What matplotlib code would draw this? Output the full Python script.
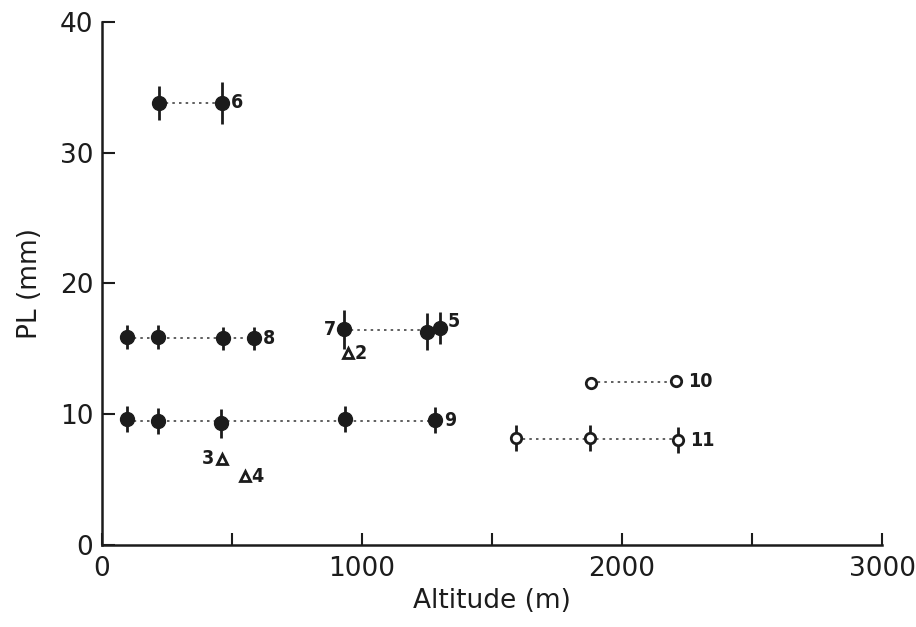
import matplotlib
matplotlib.use("Agg")
import matplotlib.pyplot as plt
import numpy as np

plt.rcParams["font.family"] = ["DejaVu Sans"]

# 各群のデータ (高度 m, PL mm, 誤差)
s6_x = [220, 462]
s6_y = [33.8, 33.8]
s6_e = [1.3, 1.6]

s8_x = [96, 215, 465, 585]
s8_y = [15.9, 15.9, 15.8, 15.8]
s8_e = [0.9, 0.9, 0.9, 0.9]

s7_x = [931, 1250, 1300]
s7_y = [16.5, 16.3, 16.6]
s7_e = [1.5, 1.4, 1.2]

s9_x = [96, 215, 458, 935, 1281]
s9_y = [9.6, 9.5, 9.3, 9.6, 9.55]
s9_e = [1.0, 1.0, 1.1, 1.0, 1.0]

s10_x = [1881, 2208]
s10_y = [12.4, 12.5]

s11_x = [1592, 1877, 2215]
s11_y = [8.2, 8.2, 8.0]
s11_e = [1.0, 1.0, 1.0]

tri_x = [946, 462, 550]
tri_y = [14.7, 6.6, 5.3]
tri_lab = ["2", "3", "4"]

ink = "#1c1c1c"

fig = plt.figure(figsize=(9.16, 6.27), dpi=100)
ax = fig.add_axes([0.111, 0.131, 0.852, 0.834])


def guide(xs, ys):
    # 点線は各群の平均値で水平に引く
    ax.hlines(np.mean(ys), min(xs), max(xs), colors="#444444",
              linestyles=(0, (1.5, 2.5)), lw=1.2, zorder=1)


def filled(xs, ys, es):
    guide(xs, ys)
    ax.errorbar(xs, ys, yerr=es, fmt="o", color=ink, ms=10, elinewidth=2,
                capsize=0, zorder=3)


def hollow(xs, ys, es=None):
    guide(xs, ys)
    ax.errorbar(xs, ys, yerr=es, fmt="o", color=ink, mfc="white", mec=ink,
                mew=2, ms=7.5, elinewidth=2, capsize=0, zorder=3)


filled(s6_x, s6_y, s6_e)
filled(s8_x, s8_y, s8_e)
filled(s7_x, s7_y, s7_e)
filled(s9_x, s9_y, s9_e)
hollow(s10_x, s10_y)
hollow(s11_x, s11_y, s11_e)

ax.plot(tri_x, tri_y, "^", ms=7, mfc="white", mec=ink, mew=2, linestyle="none")

lab_kw = dict(fontsize=14, fontweight="bold", color=ink, va="center",
              fontstretch="condensed")
ax.text(s6_x[-1] + 35, s6_y[-1], "6", **lab_kw)
ax.text(s8_x[-1] + 35, s8_y[-1], "8", **lab_kw)
ax.text(s7_x[0] - 30, s7_y[0], "7", ha="right", **lab_kw)
ax.text(s7_x[-1] + 30, s7_y[-1] + 0.5, "5", **lab_kw)
ax.text(s9_x[-1] + 35, s9_y[-1], "9", **lab_kw)
ax.text(s10_x[-1] + 45, s10_y[-1], "10", **lab_kw)
ax.text(s11_x[-1] + 45, s11_y[-1], "11", **lab_kw)
ax.text(tri_x[0] + 25, tri_y[0] - 0.1, tri_lab[0], **lab_kw)
ax.text(tri_x[1] - 30, tri_y[1], tri_lab[1], ha="right", **lab_kw)
ax.text(tri_x[2] + 25, tri_y[2] - 0.1, tri_lab[2], **lab_kw)

ax.set_xlim(0, 3000)
ax.set_ylim(0, 40)
ax.set_xticks([0, 500, 1000, 1500, 2000, 2500, 3000])
ax.set_xticklabels(["0", "", "1000", "", "2000", "", "3000"])
ax.set_yticks([0, 10, 20, 30, 40])
ax.tick_params(direction="in", length=9, width=1.5, colors=ink,
               labelsize=19, pad=6)
ax.tick_params(axis="x", pad=8)
for side in ["top", "right"]:
    ax.spines[side].set_visible(False)
for side in ["left", "bottom"]:
    ax.spines[side].set_linewidth(1.8)
    ax.spines[side].set_color(ink)

ax.set_xlabel("Altitude (m)", fontsize=19, color=ink, labelpad=4)
ax.set_ylabel("PL (mm)", fontsize=19, color=ink, labelpad=12)

fig.savefig("out.png", dpi=100)
